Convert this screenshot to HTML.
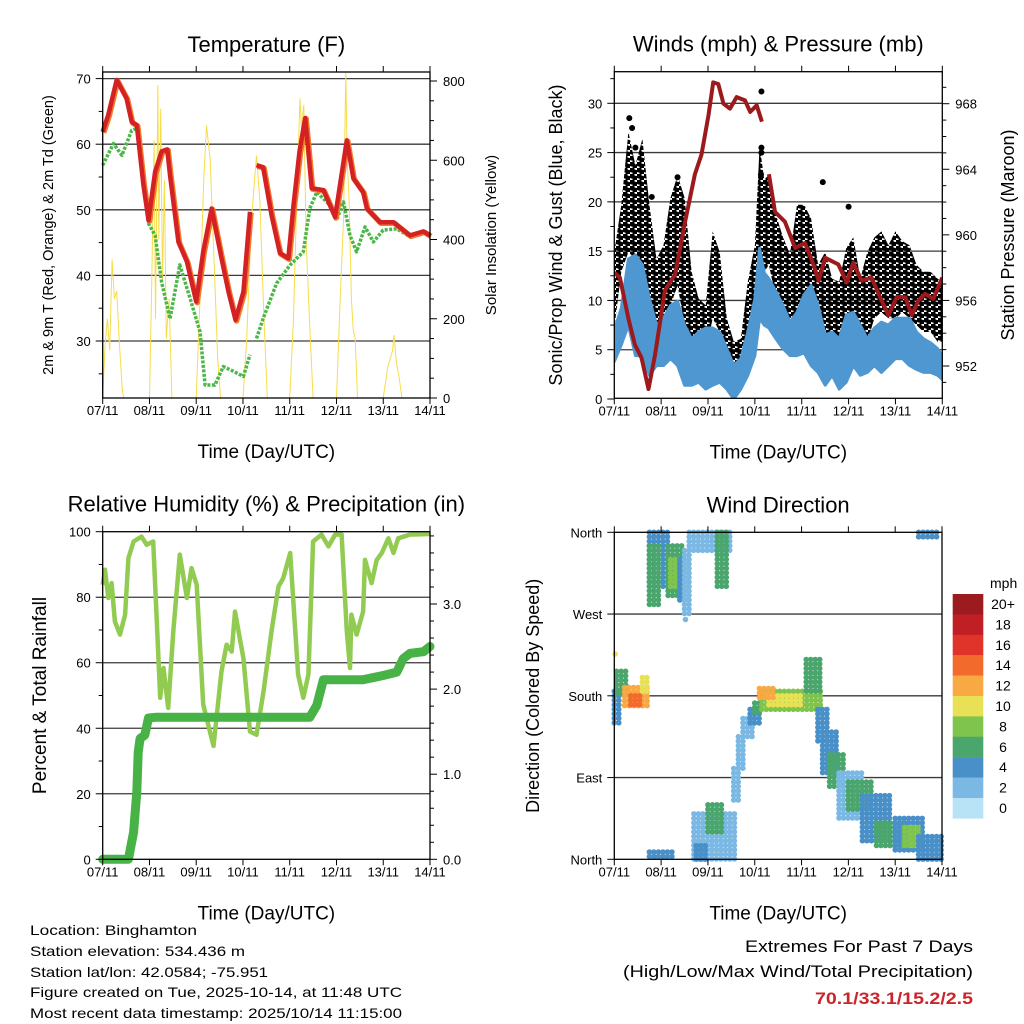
<!DOCTYPE html>
<html><head><meta charset="utf-8"><style>
html,body{margin:0;padding:0;background:#fff}
svg{display:block;font-family:"Liberation Sans",Arial,sans-serif}
</style></head><body>
<svg id="c" width="1024" height="1024" viewBox="0 0 1024 1024" xmlns="http://www.w3.org/2000/svg">
<defs>
<pattern id="dotpat" width="7" height="6" patternUnits="userSpaceOnUse">
<circle cx="1.8" cy="1.6" r="2.9" fill="#000"/>
<circle cx="5.3" cy="4.6" r="2.9" fill="#000"/>
</pattern>
</defs>
<rect width="1024" height="1024" fill="#fff"/>
<g id="p1"></g>
<g id="p2"></g>
<g id="p3"></g>
<g id="p4"></g>
<g font-size="14" fill="#000">
<text x="30" y="935" textLength="167" lengthAdjust="spacingAndGlyphs">Location: Binghamton</text>
<text x="30" y="956" textLength="215" lengthAdjust="spacingAndGlyphs">Station elevation: 534.436 m</text>
<text x="30" y="977" textLength="238" lengthAdjust="spacingAndGlyphs">Station lat/lon: 42.0584; -75.951</text>
<text x="30" y="997" textLength="372" lengthAdjust="spacingAndGlyphs">Figure created on Tue, 2025-10-14, at 11:48 UTC</text>
<text x="30" y="1018" textLength="372" lengthAdjust="spacingAndGlyphs">Most recent data timestamp: 2025/10/14 11:15:00</text>
</g>
<g font-size="17" text-anchor="end">
<text x="973" y="952" textLength="228" lengthAdjust="spacingAndGlyphs">Extremes For Past 7 Days</text>
<text x="973" y="977" textLength="350" lengthAdjust="spacingAndGlyphs">(High/Low/Max Wind/Total Precipitation)</text>
<text x="973" y="1004" textLength="158" lengthAdjust="spacingAndGlyphs" fill="#c9252b" font-weight="bold">70.1/33.1/15.2/2.5</text>
</g>
</svg>
<script>
// ---------- data ----------
const dayLabels=["07/11","08/11","09/11","10/11","11/11","12/11","13/11","14/11"];
// temperature (F)
const tempT=[0,0.12,0.3,0.51,0.62,0.73,0.87,0.98,1.12,1.26,1.38,1.44,1.62,1.8,2.0,2.15,2.33,2.54,2.69,2.84,3.01,3.15,null,3.29,3.43,3.61,3.79,3.97,4.08,4.21,4.33,4.47,4.72,4.97,5.22,5.36,5.57,5.65,5.93,6.22,6.57,6.86,7.0];
const tempV=[61.9,64.5,69.8,67.0,63.4,62.9,53.8,48.4,55.8,58.9,59.2,55.3,45.1,42.1,36.0,43.6,50.2,42.6,37.5,33.2,37.5,49.7,null,56.8,56.5,49.2,43.4,42.6,50.7,58.9,64.0,53.3,53.0,48.9,60.6,54.8,52.7,50.2,48.1,48.1,46.1,46.7,46.1];
const dewT=[0,0.23,0.41,0.62,0.73,0.87,0.98,1.12,1.26,1.44,1.65,1.87,2.08,2.19,2.4,2.58,2.79,3.01,3.15,null,3.29,3.43,3.72,4.01,4.29,4.43,4.58,4.86,5.0,5.15,5.29,5.43,5.61,5.79,6.0,6.29,6.57,6.86,7.0];
const dewV=[56.8,60.1,58.3,62.1,62.4,55.8,47.9,46.1,39.0,33.4,41.6,36.5,31.4,23.3,23.3,26.1,25.4,24.6,27.9,null,30.4,33.4,38.8,41.6,43.6,50.2,52.7,50.7,48.4,51.2,46.1,43.6,47.4,45.1,46.9,47.1,45.9,46.5,46.1];
const solarT=[0,0.05,0.1,0.15,0.2,0.25,0.3,0.35,0.42,0.45,1.0,1.05,1.1,1.13,1.18,1.2,1.24,1.28,1.32,1.36,1.42,1.48,2.0,2.08,2.16,2.22,2.3,2.38,2.46,2.52,3.0,3.08,3.18,3.29,3.36,3.45,3.52,4.0,4.08,4.15,4.22,4.25,4.3,4.35,4.42,4.5,5.0,5.08,5.15,5.2,5.23,5.27,5.32,5.36,5.4,5.45,6.0,6.1,6.2,6.23,6.28,6.33,6.4,7.0];
const solarV=[0,130,200,120,350,250,270,150,20,0,0,300,650,200,790,400,730,300,550,150,250,0,0,250,550,688,600,350,100,0,0,150,450,612,500,200,0,0,200,500,756,680,740,400,200,0,0,250,450,821,600,500,250,170,150,0,0,80,120,159,90,60,0,0];
// winds (mph) and pressure (mb)
const windT=[0,0.15,0.3,0.45,0.6,0.75,0.9,1.05,1.2,1.35,1.5,1.65,1.8,1.95,2.1,2.25,2.4,2.55,2.7,2.85,3.0,3.1,3.2,3.3,3.45,3.6,3.75,3.9,4.05,4.2,4.35,4.5,4.65,4.8,4.95,5.1,5.25,5.4,5.55,5.7,5.85,6.0,6.15,6.3,6.45,6.6,6.75,6.9,7.0];
const windHi=[7.0,9.2,14.2,14.6,13.6,10.2,7.5,8.2,9.5,9.9,7.5,6.1,6.8,7.2,7.2,6.8,5.1,3.4,4.1,6.8,10.2,15.3,12.8,12.2,10.9,9.5,7.8,8.8,10.6,11.5,9.5,6.5,6.8,6.1,8.5,8.8,7.5,6.1,7.2,7.8,7.5,8.2,8.2,8.2,6.8,6.1,5.7,5.1,4.4];
const windLo=[3.8,5.5,7.5,4.4,4.4,2.4,3.4,3.4,4.1,3.4,1.4,1.4,1.7,1.0,1.4,1.7,1.0,0,1.0,2.4,4.4,8.2,7.5,7.2,6.1,5.1,4.4,4.4,4.7,3.4,2.7,1.4,2.4,1.0,1.7,3.4,2.4,2.7,3.4,2.7,3.4,4.1,4.1,3.4,3.0,2.7,2.7,2.4,2.0];
const gustHi=[14.9,19.7,27.1,23.7,26.4,19.7,14.2,15.6,20.4,22.7,20.4,12.9,10.2,9.5,17.0,14.9,8.2,5.8,6.1,11.9,15.6,25.7,22.3,22.7,18.7,16.4,14.7,19.7,19.7,18.3,13.6,14.9,12.2,11.9,15.3,16.4,12.2,14.9,16.4,17.0,15.6,17.0,16.0,15.6,13.6,12.9,12.9,12.2,11.9];
const gustLo=[7.2,12.9,14.9,14.2,12.2,8.2,6.8,8.2,9.5,11.5,7.5,4.1,4.4,4.7,8.2,6.8,4.1,3.4,3.4,5.1,8.2,13.6,12.9,13.6,10.2,9.5,8.2,8.8,9.5,8.2,6.1,6.1,4.7,5.1,6.1,6.8,6.1,5.8,8.2,8.8,8.2,8.2,8.8,8.2,7.5,6.8,6.8,5.8,5.8];
const gustOutT=[0.32,0.38,0.45,0.8,1.35,3.14,3.14,3.14,3.13,4.45,5.0];
const gustOutV=[28.5,27.5,25.5,20.5,22.5,31.2,25.5,25.0,22.8,22.0,19.5];
const presT=[0,0.12,0.3,0.44,0.58,0.73,0.87,1.08,1.3,1.51,1.72,1.86,2.01,2.11,2.22,2.33,2.47,2.61,2.79,2.9,3.04,3.15,null,3.3,3.43,3.64,3.86,4.07,4.25,4.36,4.5,4.78,4.96,5.1,5.28,5.49,5.67,5.85,6.03,6.21,6.35,6.49,6.63,6.81,7.0];
const presV=[957.7,957.4,954.9,953.3,952.5,950.6,952.7,956.6,957.6,960.8,963.7,964.9,967.3,969.3,969.2,968.0,967.7,968.4,968.2,967.5,967.9,966.9,null,963.7,961.4,960.8,959.2,959.5,958.2,957.2,958.6,958.2,957.1,958.3,957.2,957.4,956.2,955.1,956.2,956.2,955.1,956.0,956.4,956.1,957.4];
// humidity (%) and rainfall (in)
const rhT=[0,0.05,0.12,0.19,0.26,0.37,0.48,0.55,0.66,0.83,0.94,1.08,1.15,1.23,1.3,1.4,1.51,1.65,1.8,1.9,2.01,2.15,2.37,2.54,2.65,2.76,2.83,3.01,3.15,3.29,3.44,3.61,3.76,3.86,4.01,4.18,4.29,4.4,4.5,4.68,4.83,4.97,5.11,5.22,5.29,5.32,5.43,5.57,5.61,5.75,5.86,5.97,6.11,6.22,6.32,6.57,7.0];
const rhV=[83.8,88.4,79.8,84.3,72.6,68.6,74.7,91.9,97.0,98.5,96.0,97.0,74.7,49.3,58.4,46.2,69.6,93.0,79.8,88.9,83.8,47.3,34.6,57.4,65.5,63.4,75.6,61.4,39.0,38.0,51.2,69.6,83.3,85.8,93.5,56.4,49.3,56.4,97.0,99.1,95.5,99.1,99.1,69.6,58.4,74.7,68.6,75.6,91.4,84.3,91.4,93.5,98.0,93.5,98.0,99.1,99.3];
const rainT=[0,0.55,0.66,0.73,0.76,0.8,0.9,0.98,1.15,4.43,4.58,4.72,5.57,6.0,6.29,6.43,6.57,6.86,7.0];
const rainV=[0,0,0.32,0.79,1.26,1.42,1.46,1.66,1.67,1.67,1.81,2.11,2.11,2.16,2.2,2.36,2.42,2.44,2.5];
// wind direction clusters: time range, direction range (deg), speed (mph)
const dirT0=[0,0.05,0.22,0.35,0.6,0.75,0.75,1.15,1.2,1.4,1.5,1.6,2.2,0.75,1.7,2.0,1.75,2.55,2.65,2.75,2.9,3.0,3.15,3.3,3.1,4.1,4.35,4.45,4.6,4.8,5.0,5.3,5.6,6.0,6.2,6.5,6.5,0.02,1.52];
const dirT1=[0.1,0.3,0.76,0.55,0.76,1.15,1.0,1.45,1.4,1.6,1.65,2.5,2.4,1.25,2.6,2.35,2.0,2.7,2.8,2.95,3.15,3.15,4.4,4.0,3.4,4.4,4.55,4.8,4.9,5.3,5.5,5.9,6.3,6.6,6.5,7.0,6.92,0.05,1.56];
const dirD0=[150,181,167,170,181,300,280,290,300,285,270,340,300,0,0,30,0,65,100,135,150,158,165,170,178,185,130,95,80,45,55,20,15,10,15,0,355,222,260];
const dirD1=[185,207,189,180,200,360,345,345,330,330,340,360,360,8,50,60,15,100,135,155,165,172,185,180,188,220,165,140,115,95,85,70,40,45,35,25,360,226,264];
const dirS=[4,6,12,14,10,4,6,6,8,4,2,2,6,4,2,6,4,2,2,2,4,6,8,10,12,6,4,4,6,2,6,4,6,4,8,4,4,10,2];
const cbLabels=["20+","18","16","14","12","10","8","6","4","2","0"];
const cbColors=["#9b1b1e","#c11f26","#e0342a","#f26a2c","#f9a944","#e9e155","#7ec44d","#4aa66d","#4a90c8","#7bb8e4","#b8e2f6"];

// ---------- helpers ----------
const NS="http://www.w3.org/2000/svg";
function mk(parent,tag,attrs,txt){const e=document.createElementNS(NS,tag);for(const k in attrs)e.setAttribute(k,attrs[k]);if(txt!==undefined)e.textContent=txt;parent.appendChild(e);return e;}
function lin(d0,d1,r0,r1){return v=>r0+(v-d0)*(r1-r0)/(d1-d0);}
function pathFrom(ts,vs,sx,sy){let d="",pen=false;for(let i=0;i<ts.length;i++){if(ts[i]===null){pen=false;continue;}d+=(pen?"L":"M")+sx(ts[i]).toFixed(1)+","+sy(vs[i]).toFixed(1);pen=true;}return d;}
function spdColor(s){return cbColors[10-Math.min(10,Math.floor(s/2))];}

function frame(g,P,o){
  const sy=P.sy;
  o.grid.forEach(v=>{const l=mk(g,"line",{x1:P.x0,x2:P.x1,y1:sy(v),y2:sy(v),stroke:"#3a3a3a","stroke-width":1.3});
    
    });
}
function axes(g,P,o){
  const sx=P.sx,sy=P.sy;
  const box=mk(g,"rect",{x:P.x0,y:P.y0,width:P.x1-P.x0,height:P.y1-P.y0,fill:"none",stroke:"#000","stroke-width":1.3});
  
  
  dayLabels.forEach((lab,i)=>{const x=sx(i);
    mk(g,"line",{x1:x,x2:x,y1:P.y1,y2:P.y1+6,stroke:"#000","stroke-width":1});
    mk(g,"line",{x1:x,x2:x,y1:P.y0,y2:P.y0-6,stroke:"#000","stroke-width":1});
    const t=mk(g,"text",{x:x,y:P.y1+17,"font-size":13,"text-anchor":"middle"},lab);
    
    });
  const xt=mk(g,"text",{x:(P.x0+P.x1)/2,y:P.y1+60,"font-size":19,"text-anchor":"middle"},"Time (Day/UTC)");
  
  
  o.lt.forEach((v,i)=>{const y=sy(v);mk(g,"line",{x1:P.x0-7,x2:P.x0,y1:y,y2:y,stroke:"#000"});
    const t=mk(g,"text",{x:P.x0-12,y:y+5,"font-size":13,"text-anchor":"end"},o.ll[i]);
    
    });
  (o.lm||[]).forEach(v=>{const y=sy(v);mk(g,"line",{x1:P.x0-4,x2:P.x0,y1:y,y2:y,stroke:"#000"});});
  if(o.sy2){const s2=o.sy2;
    o.rt.forEach((v,i)=>{const y=s2(v);mk(g,"line",{x1:P.x1,x2:P.x1+7,y1:y,y2:y,stroke:"#000"});
      const t=mk(g,"text",{x:P.x1+13,y:y+5,"font-size":13},o.rl[i]);
      
      });
    (o.rm||[]).forEach(v=>{const y=s2(v);mk(g,"line",{x1:P.x1,x2:P.x1+4,y1:y,y2:y,stroke:"#000"});});
  }
  const tt=mk(g,"text",{x:(P.x0+P.x1)/2,y:P.y0-20,"font-size":22,"text-anchor":"middle"},o.title);
  
  
  const cy=(P.y0+P.y1)/2;
  const ly=mk(g,"text",{x:0,y:0,"font-size":o.lfs,"text-anchor":"middle",transform:`translate(${o.lx},${cy}) rotate(-90)`},o.ltitle);
  
  
  if(o.rtitle){const ry=mk(g,"text",{x:0,y:0,"font-size":o.rfs,"text-anchor":"middle",transform:`translate(${o.rx},${cy}) rotate(-90)`},o.rtitle);
    
    }
}

// ---------- panel 1: temperature ----------
(function(){
  const g=document.getElementById("p1");
  const P={x0:102.7,x1:430,y0:72,y1:398};
  P.sx=lin(0,7,102.7,430);P.sy=lin(30,70,341,78.6);
  const s2=lin(0,800,398,81);
  frame(g,P,{grid:[30,40,50,60,70]});
  const sol=mk(g,"path",{d:pathFrom(solarT,solarV,P.sx,s2),fill:"none",stroke:"#f7dc4a","stroke-width":1});
  
  
  const dw=mk(g,"path",{d:pathFrom(dewT,dewV,P.sx,P.sy),fill:"none",stroke:"#4cb748","stroke-width":3.5,"stroke-dasharray":"3 1.5","stroke-linejoin":"round"});
  
  
  const o9=mk(g,"path",{d:pathFrom(tempT,tempV,P.sx,P.sy),fill:"none",stroke:"#f07a2a","stroke-width":5.5,"stroke-linejoin":"round",transform:"translate(1,1)"});
  
  
  const t2=mk(g,"path",{d:pathFrom(tempT,tempV,P.sx,P.sy),fill:"none",stroke:"#d42124","stroke-width":4.5,"stroke-linejoin":"round"});
  
  
  axes(g,P,{lt:[30,40,50,60,70],ll:["30","40","50","60","70"],lm:[25,35,45,55,65],sy2:s2,rt:[0,200,400,600,800],rl:["0","200","400","600","800"],rm:[50,100,150,250,300,350,450,500,550,650,700,750],
    title:"Temperature (F)",ltitle:"2m & 9m T (Red, Orange) & 2m Td (Green)",lfs:14.5,lx:53,rtitle:"Solar Insolation (Yellow)",rfs:15,rx:496});
})();

// ---------- panel 2: winds ----------
(function(){
  const g=document.getElementById("p2");
  const P={x0:614.3,x1:942.3,y0:71.7,y1:398.3};
  P.sx=lin(0,7,614.3,942.3);P.sy=lin(0,30,399,103.3);
  const s2=lin(952,968,366,103.7);
  frame(g,P,{grid:[5,10,15,20,25,30]});
  const clip=mk(g,"clipPath",{id:"cp2"});mk(clip,"rect",{x:P.x0,y:P.y0,width:P.x1-P.x0,height:P.y1-P.y0});
  const cg=mk(g,"g",{"clip-path":"url(#cp2)"});
  function band(hi,lo,fill,name,stroke,w){
    let d="M";for(let i=0;i<windT.length;i++)d+=P.sx(windT[i]).toFixed(1)+","+P.sy(hi[i]).toFixed(1)+" L";
    for(let i=windT.length-1;i>=0;i--)d+=P.sx(windT[i]).toFixed(1)+","+P.sy(lo[i]).toFixed(1)+(i?" L":"Z");
    const p=mk(cg,"path",{d:d,fill:fill,stroke:stroke,"stroke-width":w,"stroke-linejoin":"round"});
    
    
  }
  band(gustHi,gustLo,"url(#dotpat)","gust-scatter","none",0);
  gustOutT.forEach((t,i)=>{const c=mk(cg,"circle",{cx:P.sx(t),cy:P.sy(gustOutV[i]),r:3,fill:"#000"});
    
    });
  band(windHi,windLo,"#4f97d1","wind-speed-band","#4f97d1",3);
  const pr=mk(cg,"path",{d:pathFrom(presT,presV,P.sx,s2),fill:"none",stroke:"#9c1a1c","stroke-width":4,"stroke-linejoin":"round"});
  
  
  axes(g,P,{lt:[0,5,10,15,20,25,30],ll:["0","5","10","15","20","25","30"],lm:[2.5,7.5,12.5,17.5,22.5,27.5,32.5],sy2:s2,rt:[952,956,960,964,968],rl:["952","956","960","964","968"],rm:[951,953,954,955,957,958,959,961,962,963,965,966,967,969],
    title:"Winds (mph) & Pressure (mb)",ltitle:"Sonic/Prop Wind & Gust (Blue, Black)",lfs:18,lx:562,rtitle:"Station Pressure (Maroon)",rfs:18,rx:1014});
})();

// ---------- panel 3: humidity ----------
(function(){
  const g=document.getElementById("p3");
  const P={x0:102.7,x1:430,y0:531.7,y1:859.3};
  P.sx=lin(0,7,102.7,430);P.sy=lin(0,100,859.3,531.7);
  const s2=lin(0,3,859.3,604);
  frame(g,P,{grid:[20,40,60,80]});
  const rh=mk(g,"path",{d:pathFrom(rhT,rhV,P.sx,P.sy),fill:"none",stroke:"#92cb52","stroke-width":4.5,"stroke-linejoin":"round"});
  
  
  const rn=mk(g,"path",{d:pathFrom(rainT,rainV,P.sx,s2),fill:"none",stroke:"#47b245","stroke-width":9,"stroke-linejoin":"round","stroke-linecap":"round"});
  
  
  axes(g,P,{lt:[0,20,40,60,80,100],ll:["0","20","40","60","80","100"],lm:[10,30,50,70,90],sy2:s2,rt:[0,1,2,3],rl:["0.0","1.0","2.0","3.0"],rm:[0.2,0.4,0.6,0.8,1.2,1.4,1.6,1.8,2.2,2.4,2.6,2.8,3.2,3.4,3.6,3.8],
    title:"Relative Humidity (%) & Precipitation (in)",ltitle:"Percent & Total Rainfall",lfs:19,lx:46});
})();

// ---------- panel 4: wind direction ----------
(function(){
  const g=document.getElementById("p4");
  const P={x0:614.3,x1:942,y0:532.3,y1:859.3};
  P.sx=lin(0,7,614.3,942);P.sy=lin(0,360,859.3,532.3);
  frame(g,P,{grid:[90,180,270]});
  for(let k=0;k<dirT0.length;k++){
    const cg=mk(g,"g",{fill:spdColor(dirS[k])});
    
    
    const xa=P.sx(dirT0[k]),xb=P.sx(dirT1[k]),ya=P.sy(dirD1[k]),yb=P.sy(dirD0[k]);
    for(let x=xa;x<=xb+0.1;x+=4.5){for(let y=ya;y<=yb+0.1;y+=4.5){
      mk(cg,"circle",{cx:x.toFixed(1),cy:y.toFixed(1),r:2.8});}}
  }
  axes(g,P,{lt:[0,90,180,270,360],ll:["North","East","South","West","North"],
    title:"Wind Direction",ltitle:"Direction (Colored By Speed)",lfs:18,lx:539});
  const cb=mk(g,"g",{});
  
  
  const u=mk(cb,"text",{x:990,y:588,"font-size":14},"mph");
  
  
  cbColors.forEach((c,i)=>{const y=594+i*20.4;
    const r=mk(cb,"rect",{x:952.7,y:y,width:30.6,height:20.6,fill:c});
    
    
    const t=mk(cb,"text",{x:1003,y:y+15,"font-size":14,"text-anchor":"middle"},cbLabels[i]);
    
    });
})();
</script>
</body></html>
